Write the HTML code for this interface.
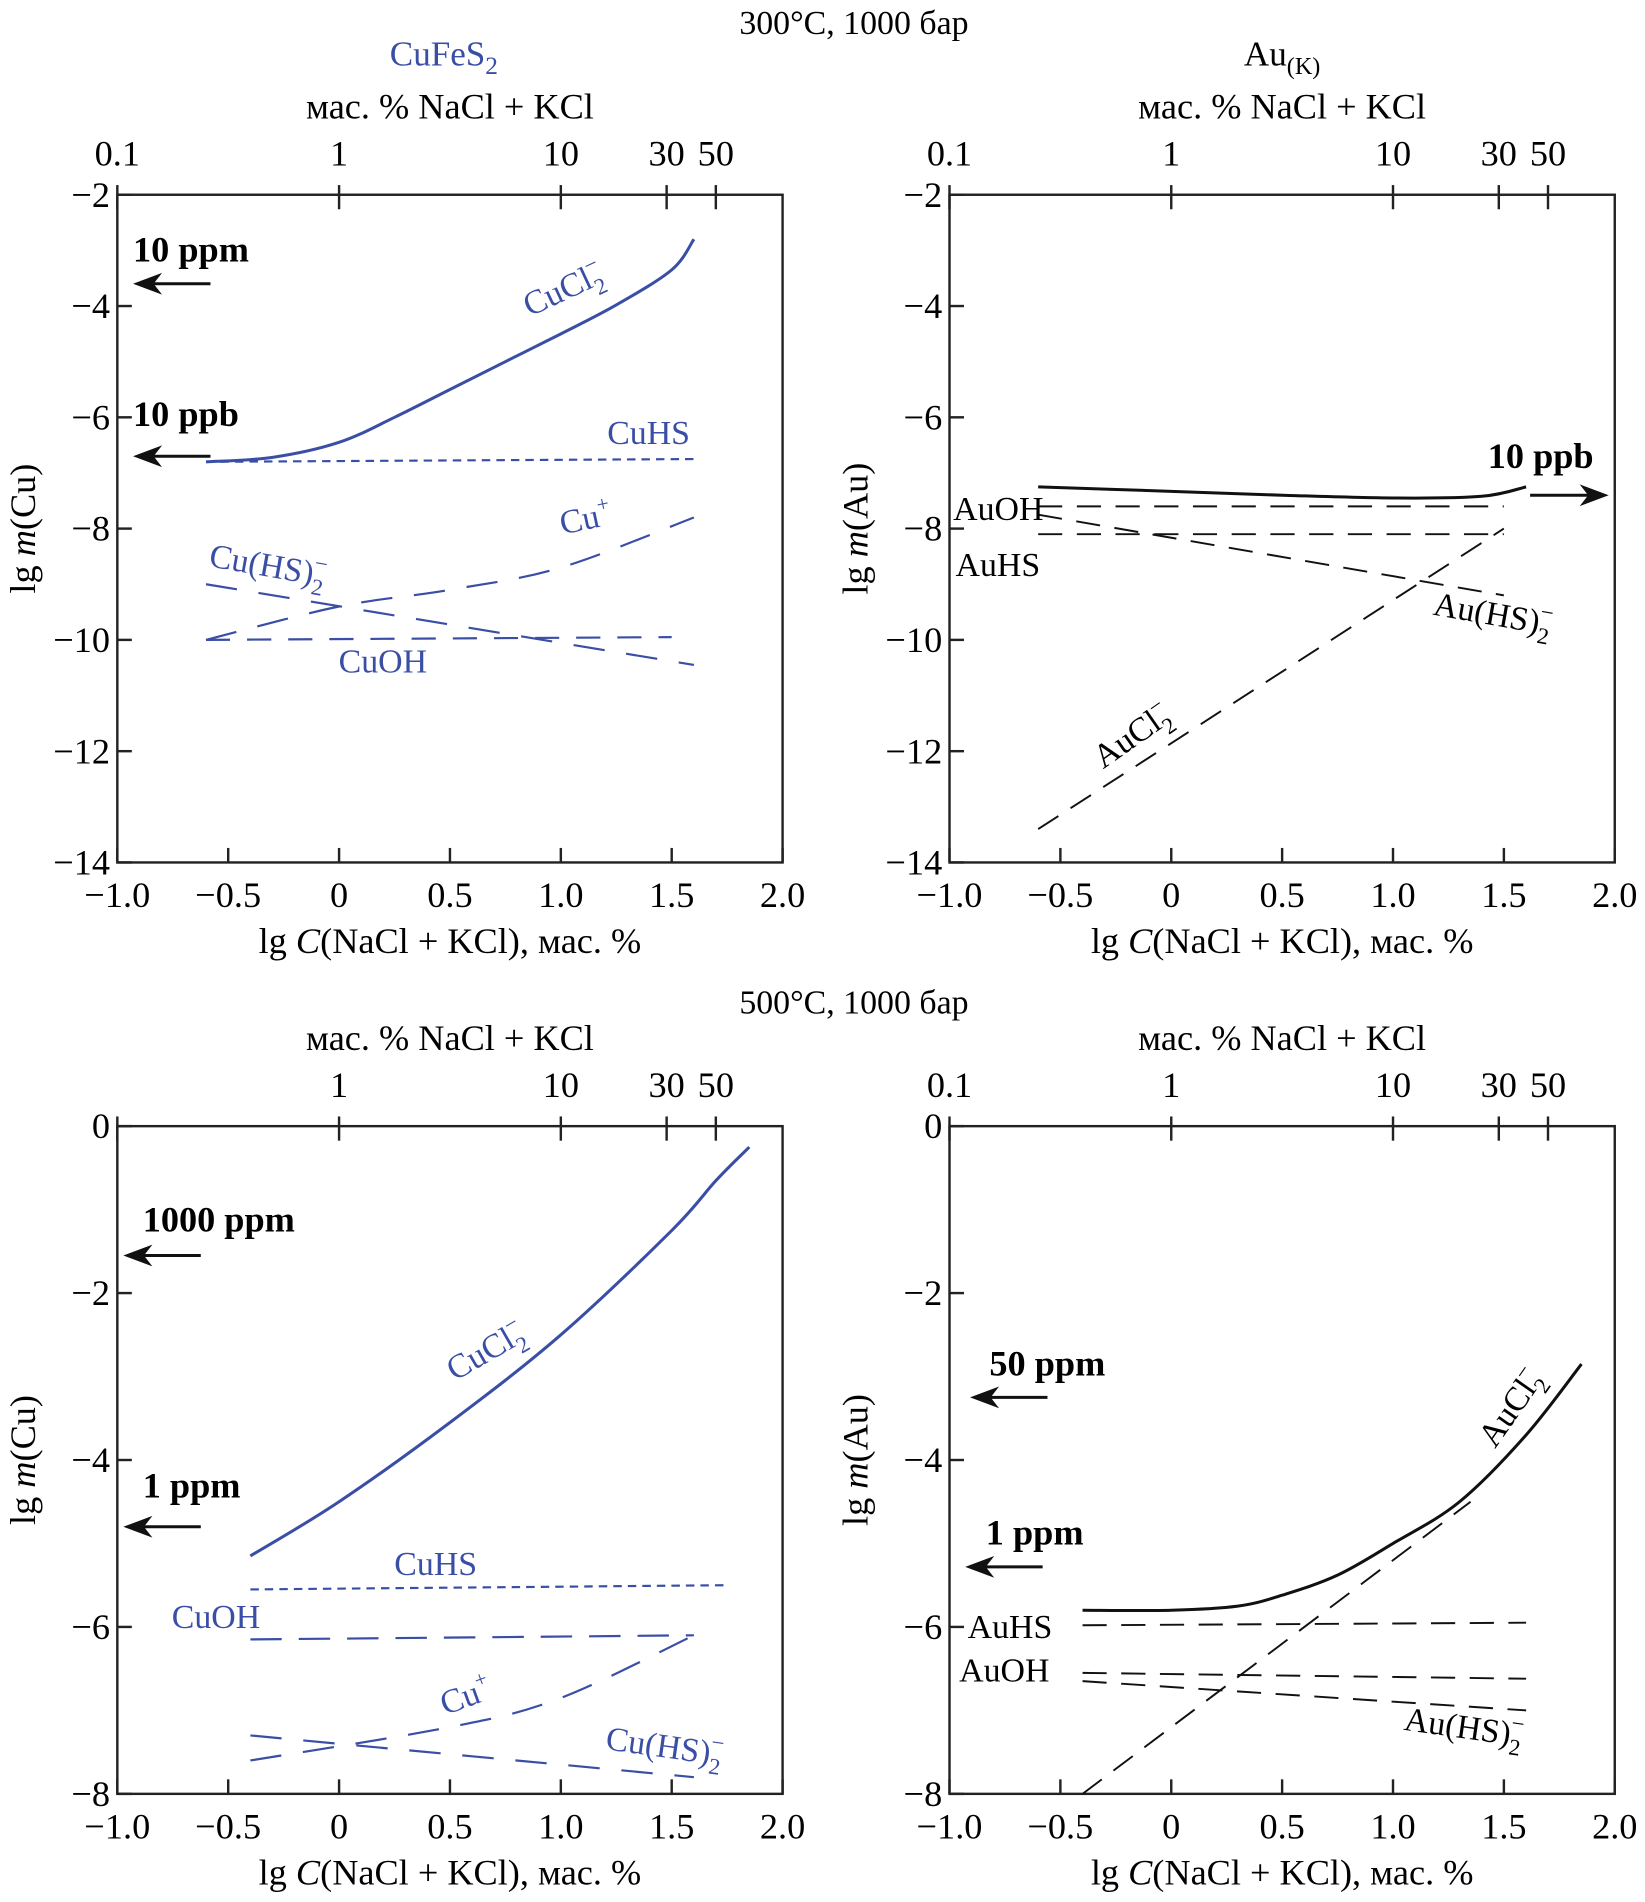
<!DOCTYPE html>
<html><head><meta charset="utf-8"><style>
html,body{margin:0;padding:0;background:#fff;}
svg{display:block;}
</style></head><body>
<svg id="fig" width="1645" height="1902" viewBox="0 0 1360 1572.4" preserveAspectRatio="none" xmlns="http://www.w3.org/2000/svg" font-family="'Liberation Serif', serif">
<text x="706" y="28" font-size="28" text-anchor="middle">300°C, 1000 бар</text>
<text x="706" y="838" font-size="28" text-anchor="middle">500°C, 1000 бар</text>
<text x="367" y="54" font-size="29" text-anchor="middle" fill="#3a4ea5">CuFeS<tspan font-size="21" dy="7">2</tspan></text>
<text x="1060" y="54" font-size="29" text-anchor="middle">Au<tspan font-size="20" dy="7">(K)</tspan></text>
</svg>
<script>
// ---- data (x = lg C, y = lg m) ----
const tlCuCl2X=[-0.6,-0.3,0,0.25,0.5,0.75,1.0,1.25,1.5,1.6];
const tlCuCl2Y=[-6.8,-6.72,-6.45,-6.0,-5.5,-5.0,-4.5,-3.98,-3.35,-2.8];
const tlCuHSX=[-0.6,1.6]; const tlCuHSY=[-6.8,-6.75];
const tlCuPX=[-0.6,0,0.5,1.0,1.6]; const tlCuPY=[-10.0,-9.4,-9.1,-8.7,-7.8];
const tlCuHS2X=[-0.6,1.6]; const tlCuHS2Y=[-9.0,-10.45];
const tlCuOHX=[-0.6,1.5]; const tlCuOHY=[-10.0,-9.95];
const trAuX=[-0.6,0,0.5,1.0,1.4,1.6]; const trAuY=[-7.25,-7.33,-7.4,-7.45,-7.42,-7.25];
const trAuOHX=[-0.6,1.5]; const trAuOHY=[-7.6,-7.6];
const trAuHSX=[-0.6,1.5]; const trAuHSY=[-8.1,-8.1];
const trAuHS2X=[-0.6,1.5]; const trAuHS2Y=[-7.75,-9.2];
const trAuCl2X=[-0.6,1.5]; const trAuCl2Y=[-13.4,-8.0];
const blCuCl2X=[-0.4,0,0.5,1.0,1.5,1.7,1.85]; const blCuCl2Y=[-5.15,-4.5,-3.55,-2.5,-1.25,-0.65,-0.25];
const blCuHSX=[-0.4,1.75]; const blCuHSY=[-5.55,-5.5];
const blCuOHX=[-0.4,1.6]; const blCuOHY=[-6.15,-6.1];
const blCuPX=[-0.4,0.5,1.0,1.6]; const blCuPY=[-7.6,-7.2,-6.85,-6.1];
const blCuHS2X=[-0.4,1.6]; const blCuHS2Y=[-7.3,-7.8];
const brAuX=[-0.4,0,0.3,0.5,0.75,1.0,1.3,1.6,1.85]; const brAuY=[-5.8,-5.8,-5.75,-5.62,-5.38,-5.0,-4.5,-3.7,-2.85];
const brAuCl2X=[-0.4,1.35]; const brAuCl2Y=[-8.0,-4.5];
const brAuHSX=[-0.4,1.6]; const brAuHSY=[-5.98,-5.95];
const brAuOHX=[-0.4,1.6]; const brAuOHY=[-6.55,-6.62];
const brAuHS2X=[-0.4,1.6]; const brAuHS2Y=[-6.65,-7.0];
const xTicks=[-1.0,-0.5,0,0.5,1.0,1.5,2.0];
const xTickLabels=["−1.0","−0.5","0","0.5","1.0","1.5","2.0"];
const topTicks=[0.1,1,10,30,50];
const topTickLabels=["0.1","1","10","30","50"];
const yTicksTop=[-2,-4,-6,-8,-10,-12,-14];
const yTicksBot=[0,-2,-4,-6,-8];

const NS="http://www.w3.org/2000/svg";
const svg=document.getElementById('fig');
const BLUE="#3a4ea5";
const FS=30;
function mk(tag,attrs,parent){const e=document.createElementNS(NS,tag);for(const k in attrs)e.setAttribute(k,attrs[k]);(parent||svg).appendChild(e);return e;}
function txt(x,y,s,size,attrs,parent){const t=mk('text',Object.assign({x:x,y:y,'font-size':size,'font-family':"'Liberation Serif', serif"},attrs||{}),parent);t.textContent=s;return t;}

function panel(name,x0,y0,ymax,ymin,yTicks,showTop01,ylabel){
  const x1=x0+550, y1=y0+552;
  const sx=v=>x0+(v+1)/3*550, sy=v=>y0+(ymax-v)/(ymax-ymin)*552;
  const g=mk('g',{});
  
  
  const fr=mk('rect',{x:x0,y:y0,width:550,height:552,fill:'none',stroke:'#222','stroke-width':2},g);
  
  
  xTicks.forEach((v,i)=>{
    mk('line',{x1:sx(v),x2:sx(v),y1:y1,y2:y1-12,stroke:'#222','stroke-width':2},g);
    const t=txt(sx(v),y1+37,xTickLabels[i],FS,{'text-anchor':'middle'},g);
    
    
  });
  topTicks.forEach((v,i)=>{
    const px=sx(Math.log10(v));
    mk('line',{x1:px,x2:px,y1:y0-8,y2:y0+12,stroke:'#222','stroke-width':2},g);
    if(v===0.1&&!showTop01)return;
    const t=txt(px,y0-24,topTickLabels[i],FS,{'text-anchor':'middle'},g);
    
    
  });
  yTicks.forEach(v=>{
    mk('line',{x1:x0,x2:x0+12,y1:sy(v),y2:sy(v),stroke:'#222','stroke-width':2},g);
    const t=txt(x0-6,sy(v)+10,v===0?"0":"−"+Math.abs(v),FS,{'text-anchor':'end'},g);
    
    
  });
  const xt=txt(x0+275,y1+75,"",FS,{'text-anchor':'middle'},g);
  xt.innerHTML='lg <tspan font-style="italic">C</tspan>(NaCl + KCl), мас. %';
  
  
  const tt=txt(x0+275,y0-63,"мас. % NaCl + KCl",FS,{'text-anchor':'middle'},g);
  
  
  const yt=txt(0,0,"",FS,{'text-anchor':'middle',transform:`translate(${x0-68},${y0+276}) rotate(-90)`},g);
  yt.innerHTML='lg <tspan font-style="italic">m</tspan>('+ylabel+')';
  
  
  return {sx,sy,g};
}
function curve(p,X,Y,name,color,dash,w){
  const P=X.map((v,i)=>[p.sx(v),p.sy(Y[i])]);
  let d='M'+P[0][0].toFixed(1)+','+P[0][1].toFixed(1);
  for(let i=0;i<P.length-1;i++){
    const p0=P[i-1]||P[i],p1=P[i],p2=P[i+1],p3=P[i+2]||P[i+1];
    const c1=[p1[0]+(p2[0]-p0[0])/6,p1[1]+(p2[1]-p0[1])/6];
    const c2=[p2[0]-(p3[0]-p1[0])/6,p2[1]-(p3[1]-p1[1])/6];
    d+='C'+c1.map(n=>n.toFixed(1)).join(',')+' '+c2.map(n=>n.toFixed(1)).join(',')+' '+p2[0].toFixed(1)+','+p2[1].toFixed(1);
  }
  const e=mk('path',{d:d,fill:'none',stroke:color,'stroke-width':w||2,'stroke-dasharray':dash||'none'},p.g);
  
  
}
function arrow(p,xs,xe,yv,name){
  const y=p.sy(yv);
  const dir=xe<xs?1:-1;
  mk('line',{x1:xs,x2:xe+dir*12,y1:y,y2:y,stroke:'#111','stroke-width':2.5},p.g);
  const a=mk('polygon',{points:`${xe},${y} ${xe+dir*24},${y-9} ${xe+dir*17},${y} ${xe+dir*24},${y+9}`,fill:'#111'},p.g);
  
  
}
function label(p,x,y,html,name,attrs){
  const t=txt(x,y,"",28,attrs||{},p.g);
  t.innerHTML=html;
  
  
}
const sub2m='<tspan font-size="19" dy="8">2</tspan><tspan font-size="19" dx="-10" dy="-20">−</tspan>';

// top-left
const tl=panel('cu-300',97,161,-2,-14,yTicksTop,true,'Cu');
curve(tl,tlCuCl2X,tlCuCl2Y,'cucl2-line',BLUE,null,2.5);
curve(tl,tlCuHSX,tlCuHSY,'cuhs-line',BLUE,'7,5',1.8);
curve(tl,tlCuPX,tlCuPY,'cu-plus-line',BLUE,'26,18',1.8);
curve(tl,tlCuHS2X,tlCuHS2Y,'cu-hs2-line',BLUE,'26,18',1.8);
curve(tl,tlCuOHX,tlCuOHY,'cuoh-line',BLUE,'20,14',1.8);
arrow(tl,174,110,-3.6,'arrow-10ppm');
arrow(tl,174,110,-6.7,'arrow-10ppb');
label(tl,110,216,'10 ppm','label-10ppm',{'font-weight':'bold','font-size':30});
label(tl,110,352,'10 ppb','label-10ppb',{'font-weight':'bold','font-size':30});
label(tl,0,0,'CuCl'+sub2m,'label-cucl2',{fill:BLUE,transform:'translate(438,262) rotate(-25)'});
label(tl,502,367,'CuHS','label-cuhs',{fill:BLUE});
label(tl,465,442,'Cu<tspan font-size="18" dy="-12">+</tspan>','label-cu-plus',{fill:BLUE,transform:'rotate(-12 465 442)'});
label(tl,0,0,'Cu(HS)'+sub2m,'label-cu-hs2',{fill:BLUE,transform:'translate(172,468) rotate(10)'});
label(tl,280,556,'CuOH','label-cuoh',{fill:BLUE});

// top-right
const tr=panel('au-300',785,161,-2,-14,yTicksTop,true,'Au');
curve(tr,trAuX,trAuY,'au-total-line','#111',null,2.5);
curve(tr,trAuOHX,trAuOHY,'auoh-line','#111','20,12',1.6);
curve(tr,trAuHSX,trAuHSY,'auhs-line','#111','20,12',1.6);
curve(tr,trAuHS2X,trAuHS2Y,'au-hs2-line','#111','20,12',1.6);
curve(tr,trAuCl2X,trAuCl2Y,'aucl2-line','#111','20,12',1.6);
arrow(tr,1265,1330,-7.4,'arrow-10ppb-au');
label(tr,1230,387,'10 ppb','label-10ppb-au',{'font-weight':'bold','font-size':30});
label(tr,788,430,'AuOH','label-auoh');
label(tr,790,476,'AuHS','label-auhs');
label(tr,0,0,'Au(HS)'+sub2m,'label-au-hs2',{transform:'translate(1184,508) rotate(10)'});
label(tr,0,0,'AuCl'+sub2m,'label-aucl2',{transform:'translate(912,636) rotate(-35)'});

// bottom-left
const bl=panel('cu-500',97,931,0,-8,yTicksBot,false,'Cu');
curve(bl,blCuCl2X,blCuCl2Y,'cucl2-line-500',BLUE,null,2.5);
curve(bl,blCuHSX,blCuHSY,'cuhs-line-500',BLUE,'7,5',1.8);
curve(bl,blCuOHX,blCuOHY,'cuoh-line-500',BLUE,'26,14',1.8);
curve(bl,blCuPX,blCuPY,'cu-plus-line-500',BLUE,'26,18',1.8);
curve(bl,blCuHS2X,blCuHS2Y,'cu-hs2-line-500',BLUE,'26,18',1.8);
arrow(bl,166,102,-1.55,'arrow-1000ppm');
arrow(bl,166,102,-4.8,'arrow-1ppm');
label(bl,118,1018,'1000 ppm','label-1000ppm',{'font-weight':'bold','font-size':30});
label(bl,118,1238,'1 ppm','label-1ppm',{'font-weight':'bold','font-size':30});
label(bl,0,0,'CuCl'+sub2m,'label-cucl2-500',{fill:BLUE,transform:'translate(376,1142) rotate(-30)'});
label(bl,326,1302,'CuHS','label-cuhs-500',{fill:BLUE});
label(bl,142,1346,'CuOH','label-cuoh-500',{fill:BLUE});
label(bl,0,0,'Cu<tspan font-size="18" dy="-12">+</tspan>','label-cu-plus-500',{fill:BLUE,transform:'translate(368,1418) rotate(-20)'});
label(bl,0,0,'Cu(HS)'+sub2m,'label-cu-hs2-500',{fill:BLUE,transform:'translate(500,1446) rotate(8)'});

// bottom-right
const br=panel('au-500',785,931,0,-8,yTicksBot,true,'Au');
curve(br,brAuX,brAuY,'au-total-line-500','#111',null,2.5);
curve(br,brAuCl2X,brAuCl2Y,'aucl2-line-500','#111','20,12',1.6);
curve(br,brAuHSX,brAuHSY,'auhs-line-500','#111','20,12',1.6);
curve(br,brAuOHX,brAuOHY,'auoh-line-500','#111','20,12',1.6);
curve(br,brAuHS2X,brAuHS2Y,'au-hs2-line-500','#111','20,12',1.6);
arrow(br,866,802,-3.25,'arrow-50ppm');
arrow(br,862,798,-5.28,'arrow-1ppm-au');
label(br,818,1137,'50 ppm','label-50ppm',{'font-weight':'bold','font-size':30});
label(br,815,1277,'1 ppm','label-1ppm-au',{'font-weight':'bold','font-size':30});
label(br,800,1354,'AuHS','label-auhs-500');
label(br,793,1390,'AuOH','label-auoh-500');
label(br,0,0,'Au(HS)'+sub2m,'label-au-hs2-500',{transform:'translate(1160,1430) rotate(8)'});
label(br,0,0,'AuCl'+sub2m,'label-aucl2-500',{transform:'translate(1236,1198) rotate(-55)'});
</script>
</body></html>
